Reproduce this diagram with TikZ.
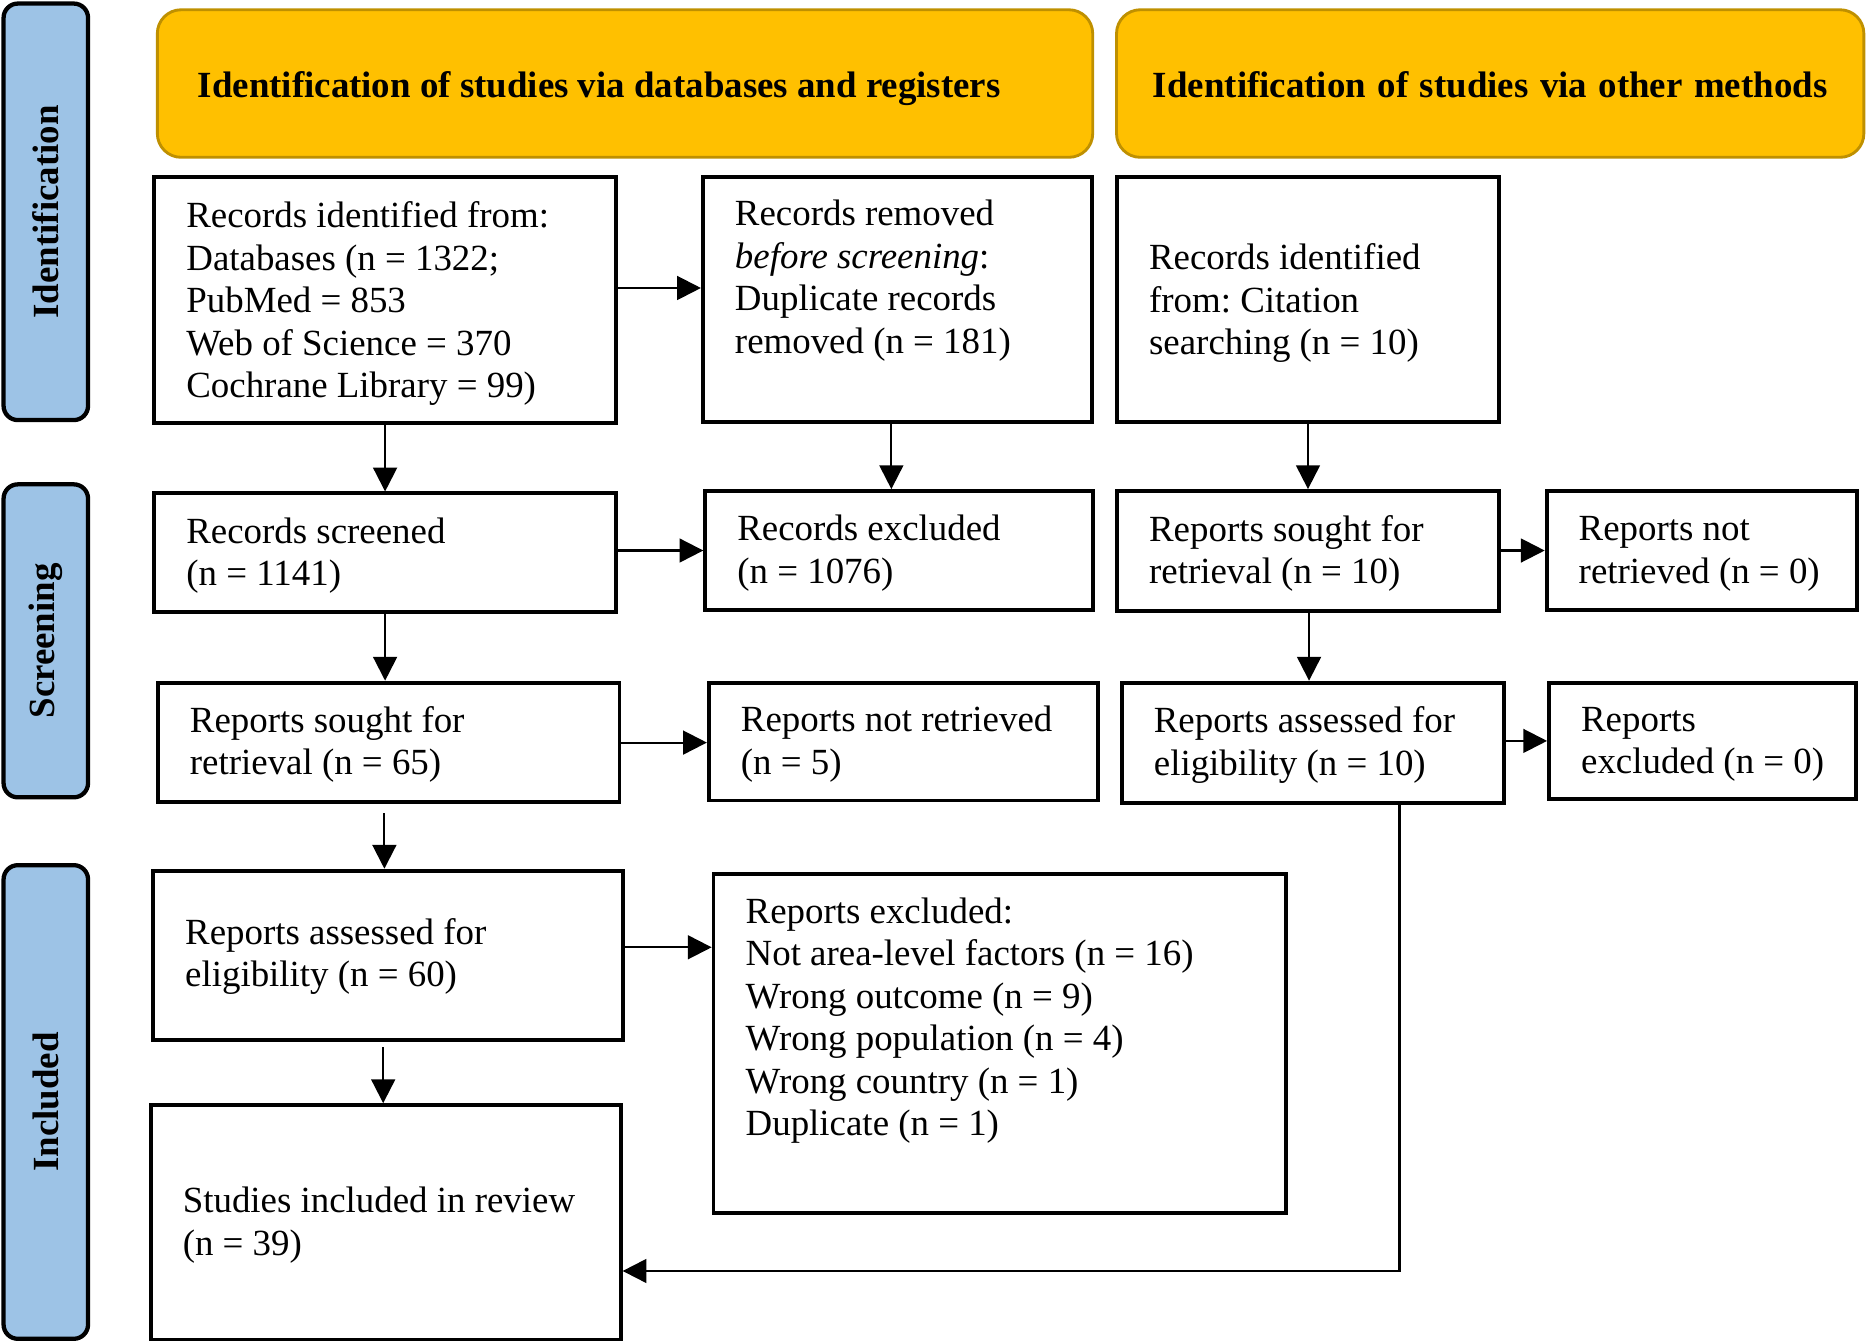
\documentclass[tikz,border=0pt]{standalone}
\usepackage{fontspec}
\setmainfont{Liberation Serif}
\usetikzlibrary{arrows.meta,calc}
\definecolor{sideblue}{HTML}{9DC3E6}
\definecolor{hdryellow}{HTML}{FFC000}
\definecolor{hdrgold}{HTML}{BF9000}
\newcommand\bodyfont{\fontsize{15.5pt}{17.85pt}\selectfont\frenchspacing}
\newcommand\fixsp{\spaceskip=0pt\xspaceskip=0pt\relax}
\newcommand\padl[1][14pt]{\leftskip=13.5pt\fixsp\rule{0pt}{#1}\ignorespaces}
\newcommand\lend{\strut\par}
\tikzset{
  box/.style={draw, line width=1.6pt, inner xsep=0pt, inner ysep=0pt, anchor=north west, align=left, font=\bodyfont},
  hdr/.style={draw=hdrgold, fill=hdryellow, line width=1.2pt, rounded corners=10pt, anchor=north west, inner xsep=0pt, inner ysep=0pt, font=\bodyfont\bfseries},
  side/.style={draw=black, fill=sideblue, line width=1.8pt, rounded corners=6pt, rotate=90, anchor=center, inner sep=0pt, font=\bodyfont\bfseries},
  arr/.style={line width=0.9pt, -{Triangle[length=10pt,width=10pt]}},
}
\begin{document}
\begin{tikzpicture}[x=0.5pt,y=-0.5pt]
\useasboundingbox (0,0) rectangle (1568,1128);
% side bars
\node[side, minimum width=175pt, minimum height=35.5pt] (sid) at (38.5,178) {Identification};
\node[side, minimum width=131.5pt, minimum height=35.5pt] (ssc) at (38.5,538.5) {Screening};
\node[side, minimum width=199pt, minimum height=35.5pt] (sinc) at (38.5,926) {Included};
% headers
\node[hdr, minimum width=393pt, text width=393pt, minimum height=62pt, align=left] (hdr1) at (131,7) {\leftskip=17pt\fixsp\rule{0pt}{17pt}Identification of studies via databases and registers\lend};
\node[hdr, minimum width=314pt, text width=314pt, minimum height=62pt, align=center] (hdr2) at (937,7) {\fixsp\rule{0pt}{17pt}Identification of studies via other methods\lend};
% boxes
\node[box, text width=194pt, minimum width=194pt, minimum height=103.5pt] (ident1) at (128,147) {\padl[16pt] Records identified from:\\ Databases (n = 1322;\\ PubMed = 853\\ Web of Science = 370\\ Cochrane Library = 99)\lend};
\node[box, text width=163.5pt, minimum width=163.5pt, minimum height=103pt] (removed) at (589,147) {\padl[15pt] Records removed\\ \textit{before screening}:\\ Duplicate records\\ removed (n = 181)\\ \lend};
\node[box, text width=160.5pt, minimum width=160.5pt, minimum height=103pt] (citation) at (937,147) {\padl[16pt] Records identified\\ from: Citation\\ searching (n = 10)\lend};
\node[box, text width=194pt, minimum width=194pt, minimum height=50pt] (screened) at (128,413) {\padl[15pt] Records screened\\ (n = 1141)\lend};
\node[box, text width=163pt, minimum width=163pt, minimum height=50pt] (excluded) at (591,411) {\padl[15pt] Records excluded\\ (n = 1076)\lend};
\node[box, text width=160.5pt, minimum width=160.5pt, minimum height=50.5pt] (sought2) at (937,411) {\padl[15pt] Reports sought for\\ retrieval (n = 10)\lend};
\node[box, text width=130.5pt, minimum width=130.5pt, minimum height=50pt] (notret2) at (1298,411) {\padl[15pt] Reports not\\ retrieved (n = 0)\lend};
\node[box, text width=194pt, minimum width=194pt, minimum height=50pt] (sought1) at (131,572) {\padl[15pt] Reports sought for\\ retrieval (n = 65)\lend};
\node[box, text width=163.5pt, minimum width=163.5pt, minimum height=49.5pt] (notret1) at (594,572) {\padl[15pt] Reports not retrieved\\ (n = 5)\lend};
\node[box, text width=160.5pt, minimum width=160.5pt, minimum height=50.5pt] (assessed2) at (941,572) {\padl[15pt] Reports assessed for\\ eligibility (n = 10)\lend};
\node[box, text width=129pt, minimum width=129pt, minimum height=49pt] (excl0) at (1300,572) {\padl[15pt] Reports\\ excluded (n = 0)\lend};
\node[box, text width=197.5pt, minimum width=197.5pt, minimum height=71pt] (assessed1) at (127,730) {\padl Reports assessed for\\ eligibility (n = 60)\lend};
\node[box, text width=240.5pt, minimum width=240.5pt, minimum height=142.5pt] (reportsexcl) at (598,733) {\padl[11pt] Reports excluded:\\ Not area-level factors (n = 16)\\ Wrong outcome (n = 9)\\ Wrong population (n = 4)\\ Wrong country (n = 1)\\ Duplicate (n = 1)\\ \lend};
\node[box, text width=197.5pt, minimum width=197.5pt, minimum height=98.5pt] (included) at (125,927) {\padl[15pt] Studies included in review\\ (n = 39)\lend};
% connectors
\draw[arr] (ident1.east |- 0,242) -- (removed.west |- 0,242);
\draw[arr] (ident1.south) -- (screened.north);
\draw[arr] (removed.south -| 749,0) -- (excluded.north -| 749,0);
\draw[arr] (citation.south) -- (sought2.north);
\draw[arr] (screened.east |- excluded.west) -- (excluded.west);
\draw[arr] (screened.south) -- (screened.south |- sought1.north);
\draw[arr] (sought2.east |- notret2.west) -- (notret2.west);
\draw[arr] (sought2.south -| 1100,0) -- (assessed2.north -| 1100,0);
\draw[arr] (sought1.east |- 0,624) -- (notret1.west |- 0,624);
\draw[arr] ($(sought1.south -| 323,0)+(0,8)$) -- (assessed1.north -| 323,0);
\draw[arr] (assessed2.east |- excl0.west) -- (excl0.west);
\draw[arr] (assessed1.east |- 0,796) -- (reportsexcl.west |- 0,796);
\draw[arr] ($(assessed1.south -| 322,0)+(0,5)$) -- (included.north -| 322,0);
\draw[arr] (assessed2.south -| 1176,0) |- (included.east |- 0,1068);
\end{tikzpicture}
\end{document}
